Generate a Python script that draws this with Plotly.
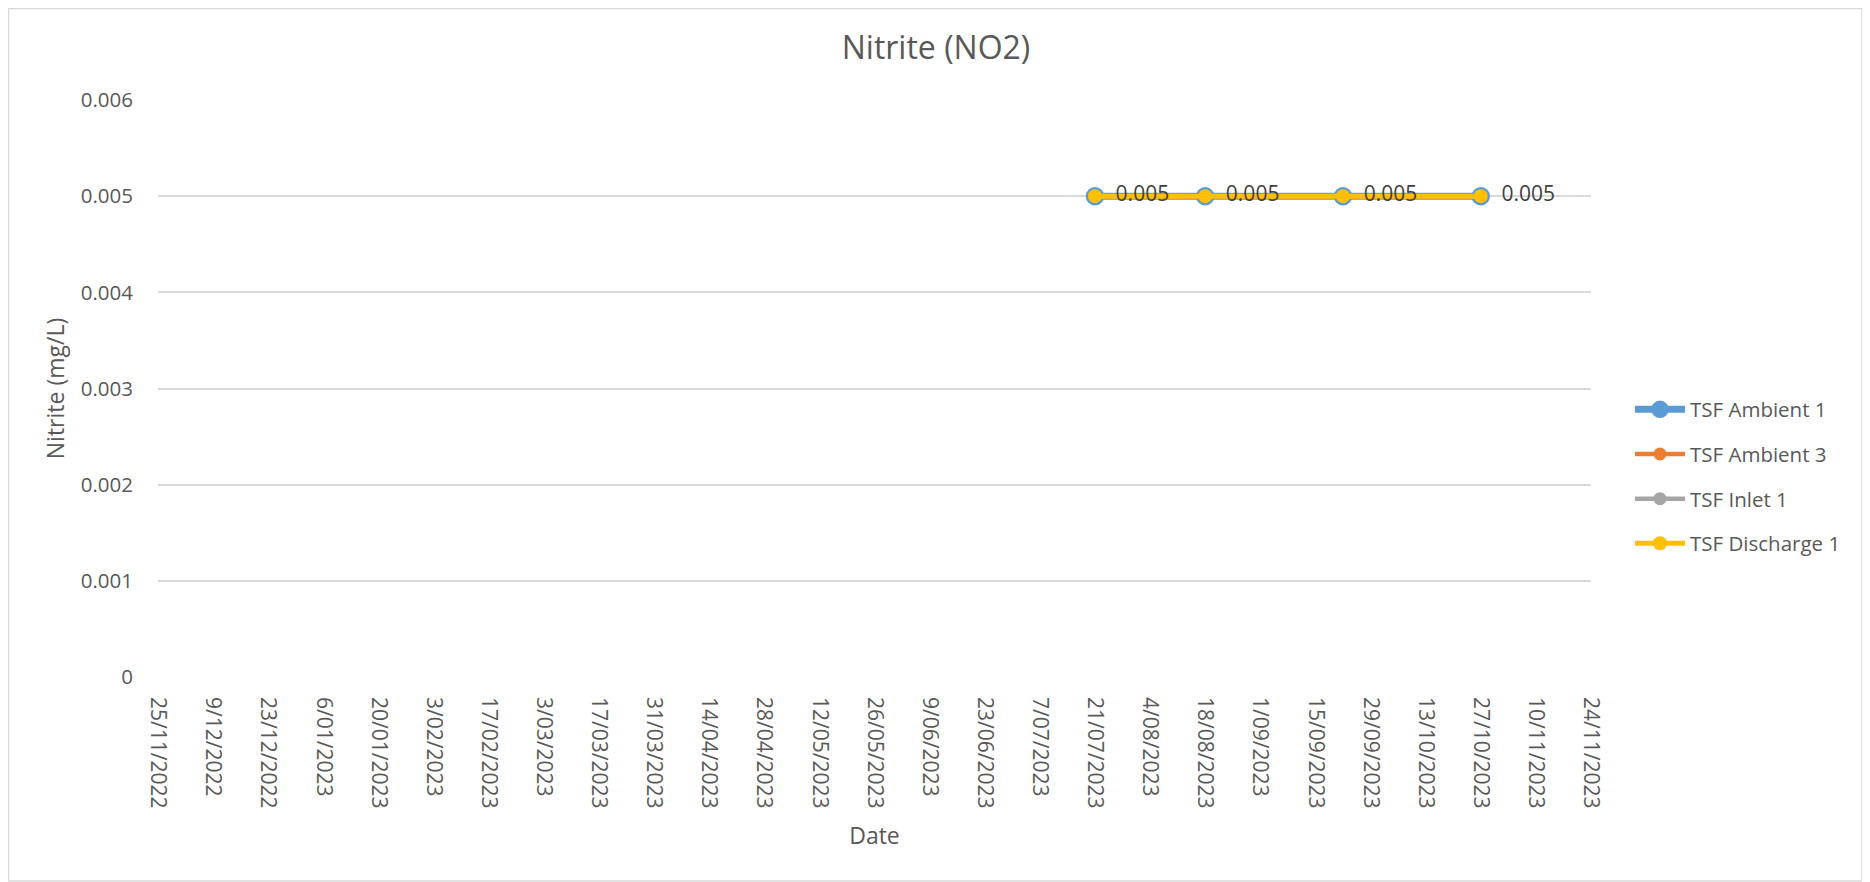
import plotly.graph_objects as go

# ---- data ----
series_names = ["TSF Ambient 1", "TSF Ambient 3", "TSF Inlet 1", "TSF Discharge 1"]
series_colors = ["#5B9BD5", "#ED7D31", "#A5A5A5", "#FFC000"]
sample_dates = ["2023-07-21", "2023-08-18", "2023-09-22", "2023-10-27"]
ambient1 = [0.005, 0.005, 0.005, 0.005]
ambient3 = [0.005, 0.005, 0.005, 0.005]
inlet1 = [0.005, 0.005, 0.005, 0.005]
discharge1 = [0.005, 0.005, 0.005, 0.005]
series_values = [ambient1, ambient3, inlet1, discharge1]

x_start, x_end = "2022-11-25", "2023-11-24"
y_ticks = [0, 0.001, 0.002, 0.003, 0.004, 0.005, 0.006]
y_tick_labels = ["0", "0.001", "0.002", "0.003", "0.004", "0.005", "0.006"]

FONT = "Open Sans"
GREY = "#595959"

# figure is placed by the page 8px from top/left (body margin)
W, H = 1862, 874
L, R, T, B = 150, 1583, 92, 669  # plot area in figure px
PW, PH = R - L, B - T

fig = go.Figure()
line_widths = [7, 4.5, 4.5, 5]
marker_sizes = [17, 13, 13, 14]
for i, (name, col, vals) in enumerate(zip(series_names, series_colors, series_values)):
    is_last = i == len(series_names) - 1
    fig.add_trace(go.Scatter(
        x=sample_dates, y=vals, name=name,
        mode="lines+markers+text" if is_last else "lines+markers",
        text=["\u00a0\u00a0" + f"{v:g}" for v in vals] if is_last else None,
        textposition="middle right",
        textfont=dict(family=FONT, size=21, color="#404040"),
        line=dict(color=col, width=line_widths[i]),
        marker=dict(color=col, size=marker_sizes[i],
                    line=dict(color="#5B9BD5" if i == 0 else col, width=1.5 if i == 0 else 0)),
        legendgroup=name,
    ))

fig.update_layout(
    width=W, height=H,
    paper_bgcolor="white", plot_bgcolor="white",
    margin=dict(l=L, r=W - R, t=T, b=H - B, autoexpand=False),
    font=dict(family=FONT, size=20, color=GREY),
    title=dict(text="Nitrite (NO2)", x=(936 - 8) / W, xref="container", xanchor="center",
               y=1 - 40 / H, yref="container", yanchor="middle",
               font=dict(family=FONT, size=32, color=GREY)),
    showlegend=True,
    legend=dict(x=(1622 - L) / PW, xanchor="left", y=(B - 468.5) / PH, yanchor="middle",
                traceorder="grouped", tracegroupgap=15, itemwidth=50,
                font=dict(family=FONT, size=20.5, color=GREY),
                bgcolor="rgba(0,0,0,0)"),
    shapes=[dict(type="rect", xref="paper", yref="paper",
                 x0=(0.5 - L) / PW, x1=(1854 - L) / PW,
                 y0=(B - 873) / PH, y1=(B - 0.5) / PH,
                 line=dict(color="#d9d9d9", width=1.5), fillcolor="rgba(0,0,0,0)",
                 layer="below")],
)

fig.update_xaxes(
    type="date", range=[x_start, x_end], tick0=x_start, dtick=14 * 86400000,
    tickformat="%-d/%m/%Y", tickangle=90, showgrid=False, zeroline=False,
    showline=False, ticks="", ticklabelstandoff=19,
    tickfont=dict(family=FONT, size=21, color=GREY),
    title=dict(text="Date", standoff=20, font=dict(family=FONT, size=23, color=GREY)),
    automargin=False,
)
fig.update_yaxes(
    range=[0, 0.006], tickvals=y_ticks, ticktext=y_tick_labels,
    showgrid=True, gridcolor="#d9d9d9", gridwidth=1.5, zeroline=False,
    showline=False, ticks="", ticklabelstandoff=24,
    tickfont=dict(family=FONT, size=20.5, color=GREY),
    title=dict(text="Nitrite (mg/L)", standoff=9, font=dict(family=FONT, size=23, color=GREY)),
    automargin=False,
)

fig.write_html("out.html")
